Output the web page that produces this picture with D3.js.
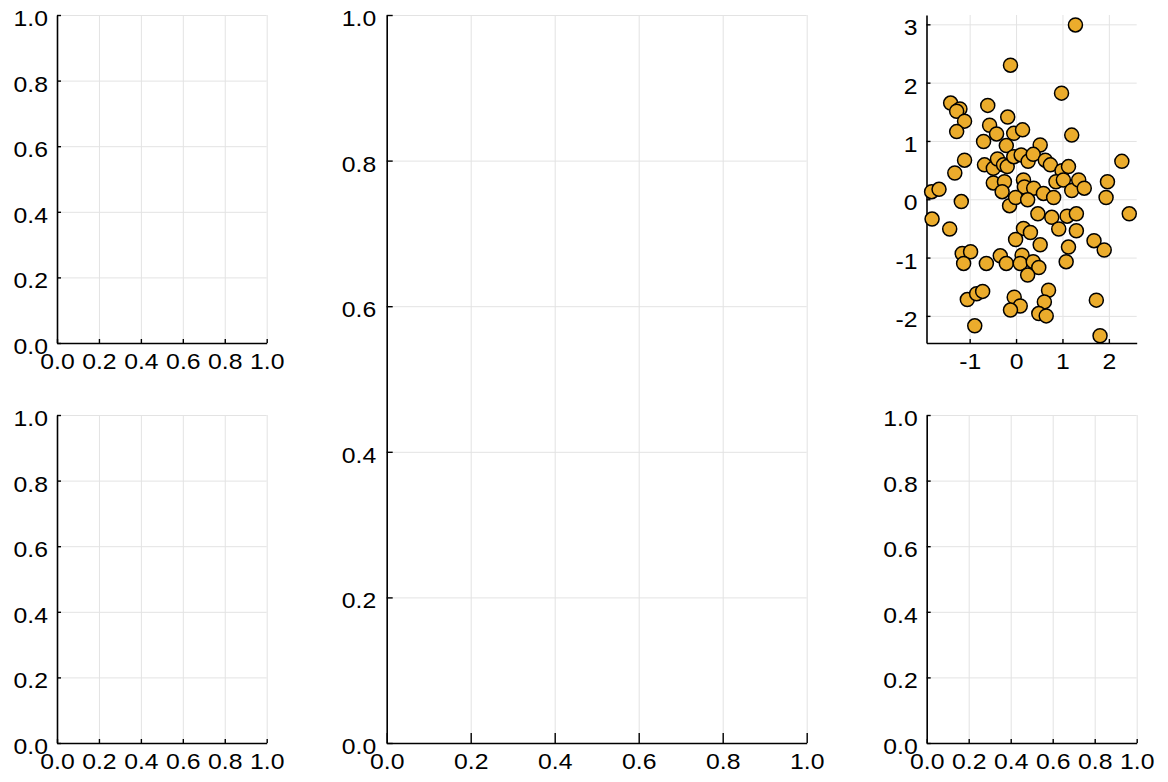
<!DOCTYPE html>
<html>
<head>
<meta charset="utf-8">
<script src="https://cdn.jsdelivr.net/npm/d3@7"></script>
<style>
  body { margin: 0; background: #fff; }
  svg { display: block; }
</style>
</head>
<body>
<script>
// unit ticks for the empty panels
let unitTicks = [0, 0.2, 0.4, 0.6, 0.8, 1.0];

// scatter data
let xs = [1.28, -0.12, 0.98, -1.41, -1.21, -1.28, -0.61, -0.18, -1.11, -1.28,
          -0.57, -0.42, -0.05, 0.14, 1.20, -0.70, -0.21, 0.52, -1.11, -1.32,
          -0.68, -0.49, -0.40, -0.27, -0.19, -0.05, 0.11, 0.26, 0.37, 0.63,
          0.74, 0.99, 1.13, 2.28, -1.82, -1.66, -0.49, -0.25, -0.30, 0.16,
          0.18, 0.38, 0.59, 0.86, 1.02, 1.20, 1.35, 1.47, 1.97, 1.94,
          2.44, -1.18, -1.81, -1.43, -0.14, -0.01, 0.25, 0.81, 0.47, 0.77,
          1.10, 1.30, 0.92, 1.30, 0.16, 0.31, -0.01, 1.68, 0.52, 1.13,
          1.90, -1.16, -0.98, -1.13, -0.64, -0.34, -0.21, 0.13, 0.09, 0.37,
          0.49, 0.25, 1.08, -1.05, -0.85, -0.72, -0.04, 0.09, -0.12, 0.70,
          0.61, 0.49, 0.65, 1.73, 1.81, -0.89];
let ys = [2.99, 2.30, 1.82, 1.65, 1.55, 1.51, 1.61, 1.41, 1.34, 1.16,
          1.27, 1.12, 1.13, 1.19, 1.10, 0.99, 0.92, 0.93, 0.67, 0.45,
          0.59, 0.53, 0.69, 0.59, 0.56, 0.73, 0.76, 0.65, 0.77, 0.67,
          0.59, 0.49, 0.56, 0.65, 0.13, 0.17, 0.28, 0.30, 0.13, 0.33,
          0.21, 0.19, 0.10, 0.30, 0.33, 0.15, 0.33, 0.19, 0.30, 0.03,
          -0.25, -0.04, -0.34, -0.51, -0.11, 0.03, -0.01, 0.03, -0.25, -0.31,
          -0.29, -0.25, -0.51, -0.54, -0.50, -0.57, -0.69, -0.71, -0.78, -0.82,
          -0.87, -0.93, -0.90, -1.10, -1.10, -0.97, -1.10, -0.96, -1.10, -1.07,
          -1.17, -1.30, -1.07, -1.72, -1.62, -1.58, -1.68, -1.83, -1.90, -1.56,
          -1.76, -1.96, -2.00, -1.73, -2.34, -2.17];
let scatterXTicks = [-1, 0, 1, 2];
let scatterYTicks = [-2, -1, 0, 1, 2, 3];

let W = 1168, H = 782;
let stretch = 1.1; // the tick font is drawn a bit wide
let fontSize = "22.5px";

let svg = d3.select("body").append("svg")
    .attr("width", W)
    .attr("height", H)
    .style("font-family", "'Liberation Sans', Arial, Helvetica, sans-serif");

// one panel = grid + axes, returns the scales
function panel(p) {
    let x = d3.scaleLinear().domain(p.xDomain).range([p.left, p.right]);
    let y = d3.scaleLinear().domain(p.yDomain).range([p.bottom, p.top]);
    let g = svg.append("g");

    // grid
    g.append("g")
        .attr("transform", `translate(0,${p.bottom})`)
        .call(d3.axisBottom(x).tickValues(p.xTicks).tickSize(-(p.bottom - p.top)).tickFormat(""))
        .call(a => a.select(".domain").remove())
        .call(a => a.selectAll("line").attr("stroke", "#e3e3e3").attr("stroke-width", 1));
    g.append("g")
        .attr("transform", `translate(${p.left},0)`)
        .call(d3.axisLeft(y).tickValues(p.yTicks).tickSize(-(p.right - p.left)).tickFormat(""))
        .call(a => a.select(".domain").remove())
        .call(a => a.selectAll("line").attr("stroke", "#e3e3e3").attr("stroke-width", 1));

    // x axis
    g.append("g")
        .attr("transform", `translate(0,${p.bottom})`)
        .call(d3.axisBottom(x).tickValues(p.xTicks).tickFormat(p.fmt)
            .tickSizeInner(-p.xTickLen).tickSizeOuter(0).tickPadding(10))
        .call(a => a.select(".domain").attr("stroke", "#000").attr("stroke-width", 1.6))
        .call(a => a.selectAll("line").attr("stroke", "#000").attr("stroke-width", 1.4))
        .call(a => a.selectAll("text")
            .attr("fill", "#000")
            .style("font-size", fontSize)
            .attr("transform", `scale(${stretch},1)`));

    // y axis
    g.append("g")
        .attr("transform", `translate(${p.left},0)`)
        .call(d3.axisLeft(y).tickValues(p.yTicks).tickFormat(p.fmt)
            .tickSizeInner(-p.yTickLen).tickSizeOuter(0).tickPadding(0))
        .call(a => a.select(".domain").attr("stroke", "#000").attr("stroke-width", 1.6))
        .call(a => a.selectAll("line").attr("stroke", "#000").attr("stroke-width", 1.4))
        .call(a => a.selectAll("text")
            .attr("fill", "#000")
            .style("font-size", fontSize)
            .attr("x", -p.labelGap / stretch)
            .attr("dy", "0.47em")
            .attr("transform", `scale(${stretch},1)`));

    return {x, y};
}

let unitFmt = d3.format(".1f");
let intFmt = d => String(d);

let small = {xDomain: [0, 1], yDomain: [0, 1], xTicks: unitTicks, yTicks: unitTicks,
             fmt: unitFmt, xTickLen: 4, yTickLen: 4, labelGap: 9};

// top-left, bottom-left
panel({...small, left: 57, right: 266.7, top: 15, bottom: 343});
panel({...small, left: 57, right: 266.7, top: 415, bottom: 743});

// tall middle panel
panel({...small, left: 386.7, right: 806.7, top: 15, bottom: 743,
       xTickLen: 10, yTickLen: 6, labelGap: 10.5});

// bottom-right
panel({...small, left: 926.7, right: 1136.7, top: 415, bottom: 743});

// top-right scatter
let sc = panel({xDomain: [-1.93, 2.60], yDomain: [-2.465, 3.16],
                xTicks: scatterXTicks, yTicks: scatterYTicks, fmt: intFmt,
                xTickLen: 4, yTickLen: 4, labelGap: 9,
                left: 926.5, right: 1136.7, top: 15, bottom: 343});

svg.append("g")
    .selectAll("circle")
    .data(d3.range(xs.length))
    .join("circle")
    .attr("cx", i => sc.x(xs[i]))
    .attr("cy", i => sc.y(ys[i]))
    .attr("r", 7)
    .attr("fill", "#ebac2c")
    .attr("stroke", "#000")
    .attr("stroke-width", 1.5);
</script>
</body>
</html>
